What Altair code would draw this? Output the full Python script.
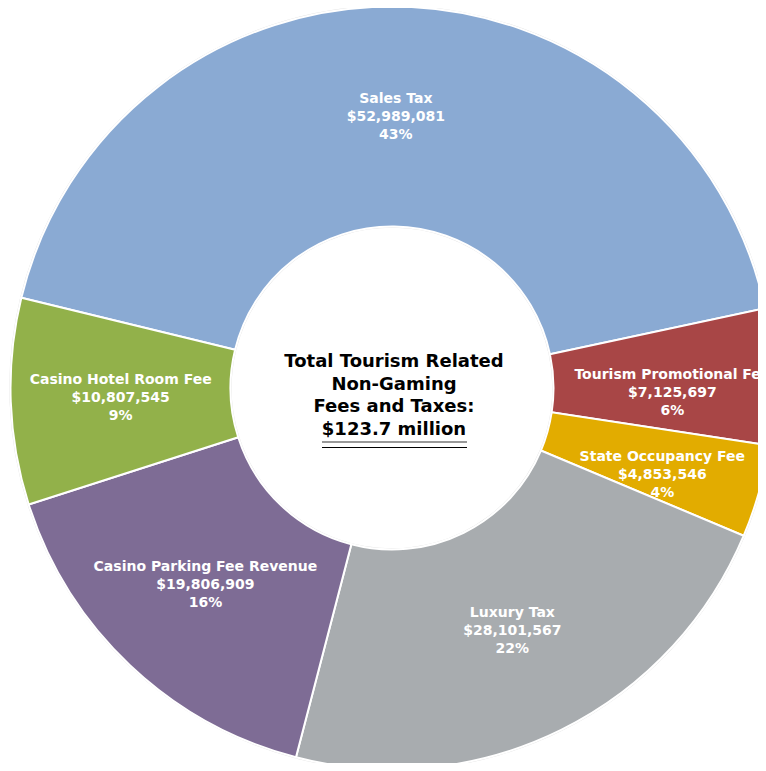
import math
import altair as alt
import pandas as pd

names = ["Sales Tax", "Tourism Promotional Fee", "State Occupancy Fee",
         "Luxury Tax", "Casino Parking Fee Revenue", "Casino Hotel Room Fee"]
values = [52989081, 7125697, 4853546, 28101567, 19806909, 10807545]
pct_labels = ["43%", "6%", "4%", "22%", "16%", "9%"]
small_slices = ["Tourism Promotional Fee", "State Occupancy Fee"]
colors = ["#8AAAD3", "#A84646", "#E2AC00", "#A8ACAF", "#7E6C95", "#92B14A"]
center_lines = ["Total Tourism Related", "Non-Gaming", "Fees and Taxes:", "$123.7 million"]

df = pd.DataFrame({
    "idx": list(range(len(names))),
    "name": names,
    "value": values,
    "label": [f"{n}\n${v:,}\n{p}" for n, v, p in zip(names, values, pct_labels)],
    "small": [n in small_slices for n in names],
})

total = sum(values)
start = -math.pi * values[0] / total + 0.014
theta_scale = alt.Scale(range=[start, start + 2 * math.pi])

CX, CY = 384, 380
R_OUT, R_IN = 381.5, 161.5

base = alt.Chart(df).encode(
    theta=alt.Theta("value:Q", stack=True, scale=theta_scale),
    order=alt.Order("idx:Q"),
    x=alt.value(CX),
    y=alt.value(CY),
)

rim = base.mark_arc(outerRadius=R_OUT + 1.2, innerRadius=R_IN - 1.2, color="#e0e0e0")

arcs = base.mark_arc(outerRadius=R_OUT, innerRadius=R_IN, stroke="white", strokeWidth=2).encode(
    color=alt.Color("name:N", scale=alt.Scale(domain=names, range=colors), legend=None)
)

text_style = dict(
    radius=(R_OUT + R_IN) / 2, lineBreak="\n", font="DejaVu Sans", fontSize=14,
    fontWeight="bold", color="white", lineHeight=18, align="center", baseline="middle",
)
labels_big = base.mark_text(dy=-18, **text_style).encode(
    text="label:N",
    opacity=alt.condition("datum.small", alt.value(0), alt.value(1)),
)
labels_small = base.mark_text(dx=9, dy=-5, **text_style).encode(
    text="label:N",
    opacity=alt.condition("datum.small", alt.value(1), alt.value(0)),
)

center = alt.Chart(pd.DataFrame({"t": ["\n".join(center_lines)]})).mark_text(
    lineBreak="\n", font="DejaVu Sans", fontSize=18, fontWeight="bold", color="black",
    lineHeight=22.5, align="center", baseline="middle", dy=-33.75,
).encode(text="t:N", x=alt.value(CX + 2), y=alt.value(CY + 8))

one = pd.DataFrame({"k": [0]})
ul1 = alt.Chart(one).mark_rule(color="#777777", strokeWidth=1.6).encode(
    x=alt.value(CX - 70), x2=alt.value(CX + 75), y=alt.value(CY + 54))
ul2 = alt.Chart(one).mark_rule(color="#000000", strokeWidth=1.2).encode(
    x=alt.value(CX - 70), x2=alt.value(CX + 75), y=alt.value(CY + 59.5))

chart = alt.layer(rim, arcs, labels_big, labels_small, center, ul1, ul2).properties(
    width=750, height=755, padding=0,
    autosize=alt.AutoSizeParams(type="none"),
).configure_view(stroke=None)

chart.save("out.html", embed_options={"renderer": "svg", "actions": False})
